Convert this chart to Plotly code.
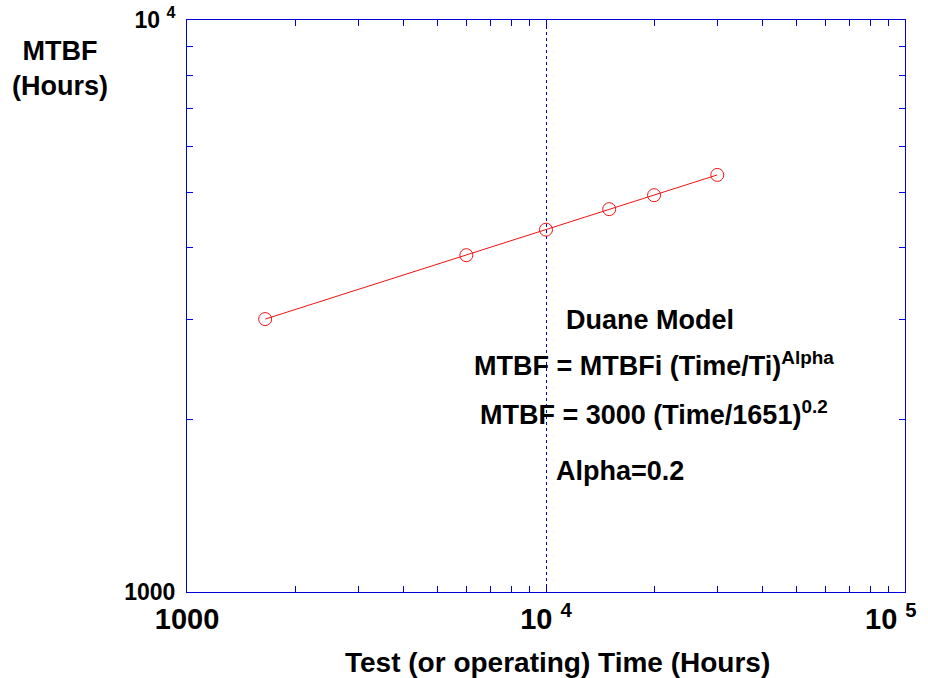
import plotly.graph_objects as go

# Data
test_time = [1651, 6000, 10000, 15000, 20000, 30000]
mtbf = [3000, 3880, 4300, 4670, 4940, 5360]

x_tickvals = [1000, 10000, 100000]
x_ticktext = ["1000", "10 <sup>4</sup>", ""]
x_last_label = "10 <sup>5</sup>"
y_tickvals = [1000, 10000]
y_ticktext = ["1000", "10 <sup>4</sup>"]
x_minor = [m * d for d in (1000, 10000) for m in range(2, 10)]
y_minor = [m * 1000 for m in range(2, 10)]

FONT = "Liberation Sans, Arial, sans-serif"
BLUE = "#0000dd"
RED = "#ee1111"

fig = go.Figure()
fig.add_trace(go.Scatter(
    x=test_time, y=mtbf, mode="lines+markers",
    line=dict(color=RED, width=1),
    marker=dict(symbol="circle-open", size=13, color=RED, line=dict(width=1, color=RED)),
    showlegend=False,
))

axis_common = dict(
    type="log", showline=True, linecolor=BLUE, linewidth=1, mirror="ticks",
    ticks="inside", ticklen=6, tickcolor=BLUE, zeroline=False, automargin=False,
)

fig.update_xaxes(
    **axis_common, range=[3, 5], tickvals=x_tickvals, ticktext=x_ticktext,
    tickfont=dict(family=FONT, size=29, color="black", weight="bold"),
    showgrid=True, gridcolor=BLUE, griddash="dot", gridwidth=1,
    minor=dict(tickvals=x_minor, ticks="inside", ticklen=6, tickcolor=BLUE, showgrid=False),
    ticklabelstandoff=1,
)
fig.update_yaxes(
    **axis_common, range=[3, 4], tickvals=y_tickvals, ticktext=y_ticktext,
    tickfont=dict(family=FONT, size=23, color="black", weight="bold"),
    showgrid=False,
    minor=dict(tickvals=y_minor, ticks="inside", ticklen=6, tickcolor=BLUE, showgrid=False),
    ticklabelstandoff=6,
)

fig.update_layout(
    width=928, height=678,
    margin=dict(l=187, r=23, t=20, b=86),
    paper_bgcolor="white", plot_bgcolor="white",
    font=dict(family=FONT),
)

# last x tick label (drawn as annotation so it is not clipped at the edge)
fig.add_annotation(
    text="<b>" + x_last_label + "</b>", x=5, xref="x", y=0, yref="paper",
    yshift=-25, xshift=14, showarrow=False, xanchor="right", yanchor="middle",
    font=dict(family=FONT, size=29, color="black"),
)

def px_x(p):
    return (p - 187) / (905 - 187)

def px_y(p):
    return (592 - p) / (592 - 20)

texts = [
    ("<b>MTBF</b><br><b>(Hours)</b>", 60, 68, 27),
    ("<b>Test (or operating) Time (Hours)</b>", 557, 662, 28),
    ("<b>Duane Model</b>", 650, 320, 27),
    ("<b>MTBF = MTBFi (Time/Ti)<sup>Alpha</sup></b>", 654, 364, 27),
    ("<b>MTBF = 3000 (Time/1651)<sup>0.2</sup></b>", 654, 413, 27),
    ("<b>Alpha=0.2</b>", 620, 471, 27),
]
for t, xp, yp, sz in texts:
    fig.add_annotation(
        text=t, x=px_x(xp), y=px_y(yp), xref="paper", yref="paper",
        showarrow=False, xanchor="center", yanchor="middle",
        font=dict(family=FONT, size=sz, color="black"), align="center",
    )

fig.write_html("out.html")
